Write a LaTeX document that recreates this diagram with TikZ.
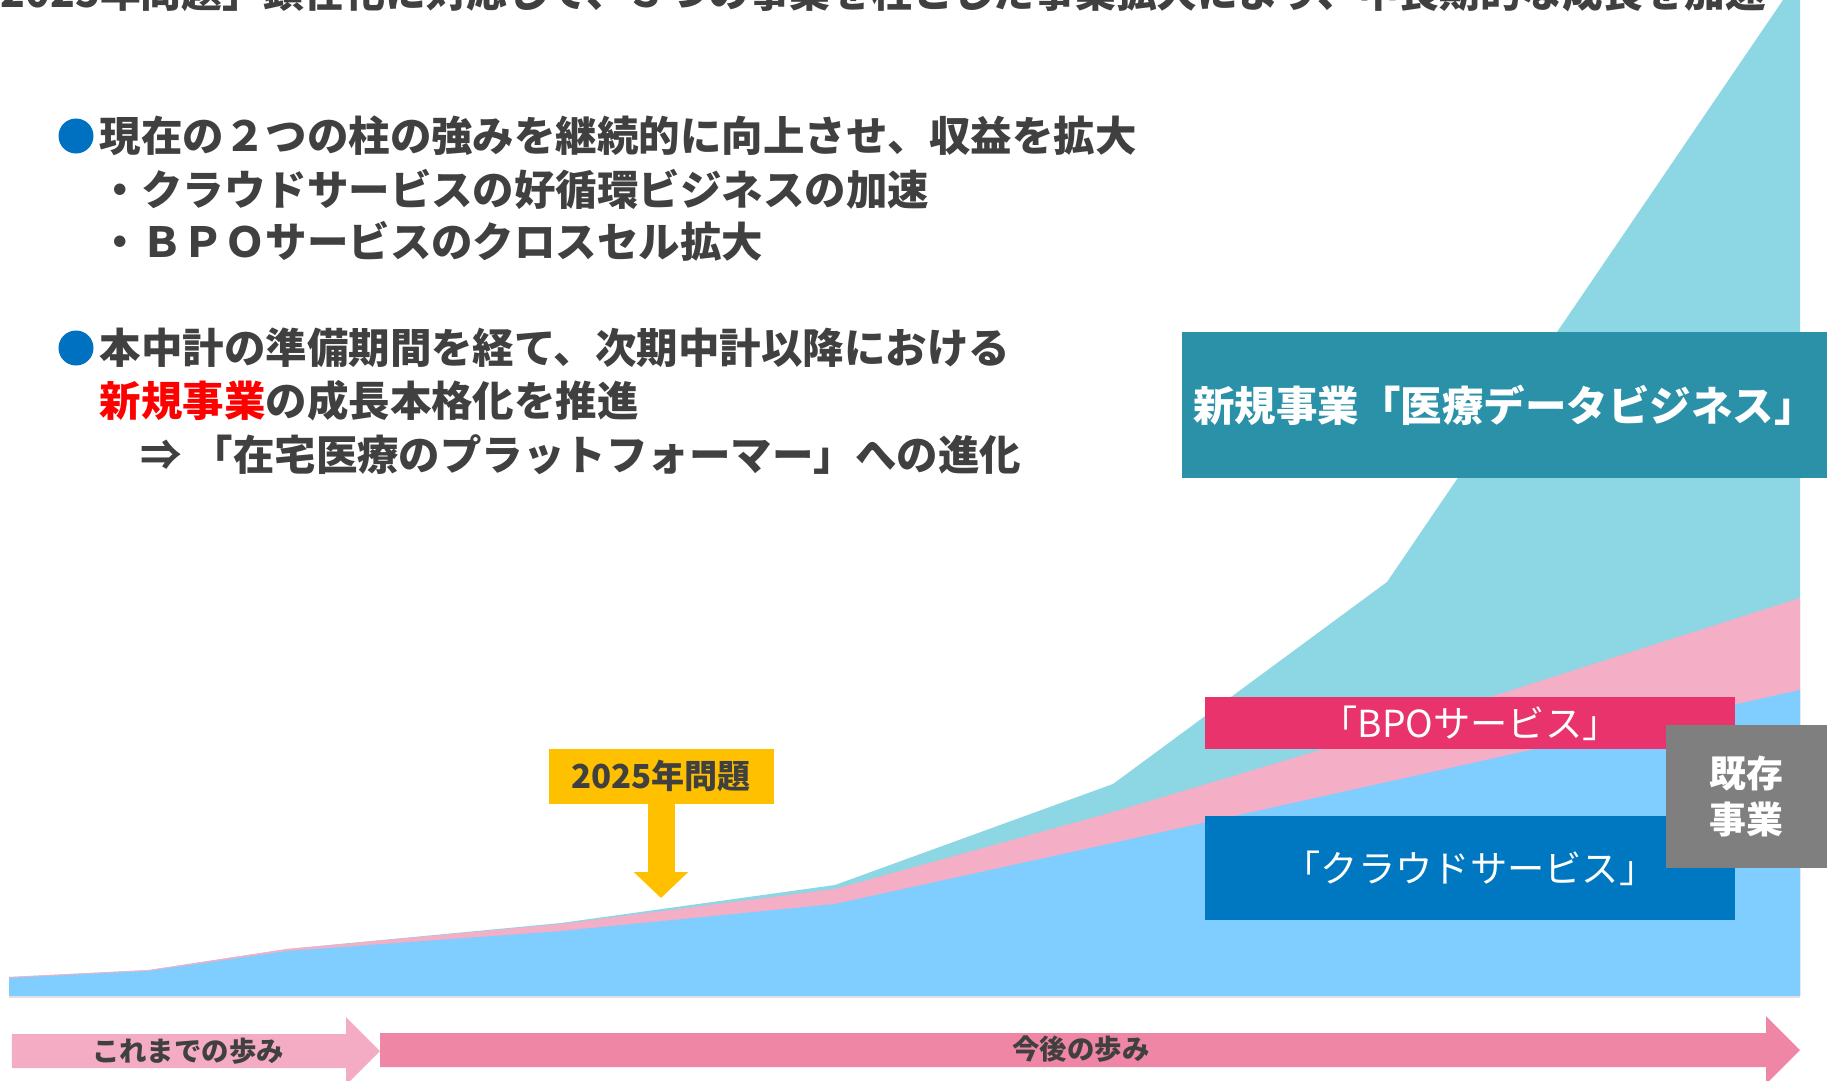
\documentclass[tikz,border=0pt]{standalone}
\usepackage{fontspec}
\setmainfont{Noto Sans CJK JP}
\usetikzlibrary{arrows.meta}
\definecolor{txtgray}{HTML}{404040}
\definecolor{dotblue}{HTML}{0070C0}
\definecolor{areateal}{HTML}{8DD6E3}
\definecolor{areapink}{HTML}{F4AEC6}
\definecolor{areablue}{HTML}{80CEFF}
\definecolor{boxteal}{HTML}{2A91A8}
\definecolor{boxpink}{HTML}{E8336D}
\definecolor{boxblue}{HTML}{0078C1}
\definecolor{boxgray}{HTML}{7F7F7F}
\definecolor{boxyellow}{HTML}{FFC000}
\definecolor{pastpink}{HTML}{F4ACC4}
\definecolor{futurepink}{HTML}{F086A6}
\tikzset{
  body/.style={anchor=west,inner sep=0pt,text=txtgray,font=\bfseries\fontsize{11.8pt}{14pt}\selectfont},
  dot/.style={circle,fill=dotblue,inner sep=0pt,minimum size=3.5mm},
  tag/.style={inner sep=0pt,text=white,font=\fontsize{10.6pt}{12pt}\selectfont},
  steplabel/.style={inner sep=0pt,text=txtgray,font=\bfseries\fontsize{7.8pt}{9pt}\selectfont}
}
\begin{document}
\begin{tikzpicture}[x=0.1mm,y=-0.1mm]
\useasboundingbox (0,0) rectangle (1827,1081);
\clip (0,0) rectangle (1827,1081);
% headline, cut at the top edge
\node[body,anchor=base west,font=\bfseries\fontsize{11.6pt}{14pt}\selectfont] (head) at (0,7) {2025年問題」顕在化に対応して、３つの事業を柱とした事業拡大により、中長期的な成長を加速};
% stacked areas
\fill[color=areateal] (9,996) -- (9,977) -- (149,970) -- (287,949) -- (561,923) -- (835,885) -- (1113,784) -- (1387,582) -- (1800,-25) -- (1800,996) -- cycle;
\fill[color=areapink] (9,996) -- (9,977) -- (149,970) -- (287,949) -- (561,924) -- (835,889) -- (1113,812) -- (1387,730) -- (1800,598) -- (1800,996) -- cycle;
\fill[color=areablue] (9,996) -- (9,978) -- (149,971) -- (287,951) -- (561,931) -- (835,904) -- (1113,843) -- (1387,782) -- (1800,690) -- (1800,996) -- cycle;
\draw[color=black!12,line width=0.6pt] (9,997) -- (1800,997);
% text on the left
\node[dot] (b1) at (76,136) {};
\node[dot] (b2) at (76,348) {};
\foreach \n/\y/\t in {l1/136/{現在の２つの柱の強みを継続的に向上させ、収益を拡大},
  l2/189/{・クラウドサービスの好循環ビジネスの加速},
  l3/241/{・ＢＰＯサービスのクロスセル拡大},
  l4/348/{本中計の準備期間を経て、次期中計以降における},
  l5/401/{{\color{red}新規事業}の成長本格化を推進}}
  \node[body] (\n) at (99,\y) {\t};
\node[body] (l6) at (140,455) {⇒ 「在宅医療のプラットフォーマー」への進化};
% business boxes
\node[tag,fill=boxteal,minimum width=64.5mm,minimum height=14.6mm,font=\bfseries\fontsize{11.8pt}{14pt}\selectfont] (newbiz) at (1504.5,405) {新規事業「医療データビジネス」};
\node[tag,fill=boxpink,minimum width=53mm,minimum height=5.2mm] (bpo) at (1470,723) {「BPOサービス」};
\node[tag,fill=boxblue,minimum width=53mm,minimum height=10.4mm] (cloud) at (1470,868) {「クラウドサービス」};
\node[tag,fill=boxgray,minimum width=16.1mm,minimum height=14.3mm,align=center,font=\bfseries\fontsize{10.5pt}{13.1pt}\selectfont] (exist) at (1746.5,796.5) {既存\\事業};
% 2025 marker
\node[tag,fill=boxyellow,text=txtgray,minimum width=22.5mm,minimum height=5.5mm,font=\bfseries\fontsize{9.4pt}{11pt}\selectfont] (y2025) at (661,776) {2025年問題};
\coordinate (ytip) at (661,898);
\draw[color=boxyellow,line width=2.7mm,-{Triangle[length=2.6mm,width=5.3mm]}] (y2025.south) -- (ytip);
% time arrows
\fill[color=pastpink] (12,1034) -- (346,1034) -- (346,1017) -- (380,1051) -- (346,1085) -- (346,1068) -- (12,1068) -- cycle;
\fill[color=futurepink] (380,1033) -- (1766,1033) -- (1766,1016) -- (1800,1050) -- (1766,1084) -- (1766,1067) -- (380,1067) -- cycle;
\node[steplabel] (past) at (188,1051) {これまでの歩み};
\node[steplabel] (future) at (1081,1049) {今後の歩み};
\end{tikzpicture}
\end{document}
